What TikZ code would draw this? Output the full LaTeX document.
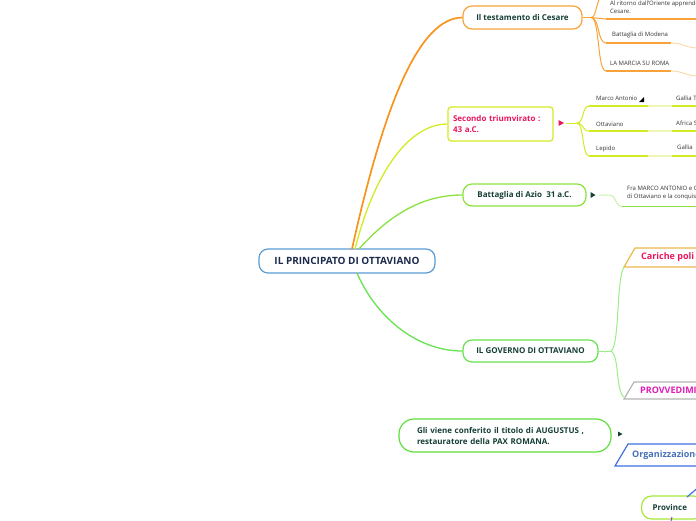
\documentclass[tikz,border=0pt]{standalone}
\usepackage{fontspec}
\setmainfont{Open Sans}
\definecolor{cOrange}{HTML}{F8A33A}
\definecolor{cOrangeDeep}{HTML}{F7941D}
\definecolor{cOrangeLight}{HTML}{FBD8A5}
\definecolor{cYellow}{HTML}{D4EA22}
\definecolor{cYellowLight}{HTML}{EEF7B5}
\definecolor{cGreen}{HTML}{8BE23E}
\definecolor{cGreenTwo}{HTML}{66E34F}
\definecolor{cGreenThree}{HTML}{5FDE3E}
\definecolor{cGreenLine}{HTML}{99EE88}
\definecolor{cGreenLight}{HTML}{C6F3A6}
\definecolor{cBlue}{HTML}{5B9BD5}
\definecolor{cNavy}{HTML}{1C2B4D}
\definecolor{cDark}{HTML}{163F36}
\definecolor{cPink}{HTML}{E8175D}
\definecolor{cMagenta}{HTML}{E01CB8}
\definecolor{cGold}{HTML}{ECB84C}
\definecolor{cGray}{HTML}{B4B4B4}
\definecolor{cBlueTwo}{HTML}{3F6FE0}
\definecolor{cBlueText}{HTML}{4872B8}
\definecolor{cProv}{HTML}{A6E83A}
\definecolor{cPurple}{HTML}{A040C0}
\begin{document}
\begin{tikzpicture}[x=1pt,y=-1pt,
  box/.style={draw, line width=1.2pt, fill=white, inner sep=0pt, align=center},
  bigfont/.style={font=\fontsize{10}{12}\selectfont\bfseries},
  midfont/.style={font=\fontsize{8}{11}\selectfont\bfseries},
  smallfont/.style={font=\fontsize{6}{8}\selectfont},
  leaf/.style={smallfont, text=black!80, anchor=west, inner sep=0pt, align=left},
  mainline/.style={line width=1.3pt},
  subline/.style={line width=1pt},
  uline/.style={line width=1.4pt},
  lightline/.style={line width=0.9pt}
]
\useasboundingbox (0,0) rectangle (696,520);
\clip (0,0) rectangle (696,520);

% ---------- root ----------
\node[box, draw=cBlue, rounded corners=9pt, minimum width=176pt, minimum height=24pt, bigfont, text=cNavy] (root) at (347,261) {IL PRINCIPATO DI OTTAVIANO};

% ---------- main branches ----------
\node[box, draw=cOrange, rounded corners=9pt, minimum width=119pt, minimum height=23pt, midfont, text=cDark] (test) at (522.5,17.5) {Il testamento di Cesare};
\node[box, draw=cYellow, rounded corners=3pt, minimum width=105pt, minimum height=34pt, midfont, text=cPink, align=left, text width=95pt] (trium) at (500.5,124) {Secondo triumvirato :\\43 a.C.};
\node[box, draw=cGreen, rounded corners=9pt, minimum width=123pt, minimum height=22pt, midfont, text=cDark] (azio) at (524.5,195) {Battaglia di Azio\ \ 31 a.C.};
\node[box, draw=cGreenTwo, rounded corners=9pt, minimum width=135pt, minimum height=22pt, midfont, text=cDark] (gov) at (530.5,351) {IL GOVERNO DI OTTAVIANO};
\node[box, draw=cGreenThree, rounded corners=15pt, minimum width=212pt, minimum height=33pt, midfont, text=cDark, align=left, text width=176pt] (aug) at (505,435.5) {Gli viene conferito il titolo di AUGUSTUS ,\\restauratore della PAX ROMANA.};
\node[box, draw=cProv, rounded corners=10pt, minimum width=62pt, minimum height=23pt, midfont, text=cDark, anchor=west, text width=54pt, align=left] (prov) at (641,507.5) {\hspace*{7pt}Province};

% root connectors
\coordinate (r1) at (352,249);
\coordinate (r2) at (355,249);
\coordinate (r3) at (359,249);
\coordinate (r4) at (357,273);
\draw[mainline, cOrangeDeep, line width=1.7pt] (r1) .. controls (385,100) and (420,18) .. (test.west);
\draw[mainline, cYellow] (r2) .. controls (375,170) and (410,124) .. (trium.west);
\draw[mainline, cGreen] (r3) .. controls (392,212) and (425,195) .. (azio.west);
\draw[mainline, cGreenTwo] (r4) .. controls (375,315) and (415,351) .. (gov.west);

% ---------- testamento children ----------
\coordinate (tj) at (591,17.5);
\coordinate (tup) at (600,-2);
\draw[subline, cOrange] (test.east) -- (tj);
\draw[subline, cOrange] (tj) .. controls (596,17.5) and (596,4) .. (tup);
\node[leaf] (t1) at (610,7) {Al ritorno dall'Oriente apprende\\Cesare.};
\node[leaf] (t2) at (612,35) {Battaglia di Modena};
\node[leaf] (t3) at (610,63) {LA MARCIA SU ROMA};
\coordinate (t1a) at (606,19); \coordinate (t1b) at (700,19);
\coordinate (t2a) at (606,43); \coordinate (t2b) at (671,43); \coordinate (t2c) at (700,48);
\coordinate (t3a) at (606,71); \coordinate (t3b) at (671,71); \coordinate (t3c) at (700,76);
\draw[subline, cOrange] (tj) .. controls (598,17.5) and (598,19) .. (t1a);
\draw[uline, cOrange] (t1a) -- (t1b);
\draw[subline, cOrange] (tj) .. controls (600,17.5) and (597,43) .. (t2a);
\draw[uline, cOrange] (t2a) -- (t2b);
\draw[lightline, cOrangeLight] (t2b) .. controls (684,43) and (684,48) .. (t2c);
\draw[subline, cOrange] (tj) .. controls (600,17.5) and (597,71) .. (t3a);
\draw[uline, cOrange] (t3a) -- (t3b);
\draw[lightline, cOrangeLight] (t3b) .. controls (684,71) and (684,76) .. (t3c);

% ---------- triumvirato children ----------
\fill[cPink] (558.5,120) -- (564,123) -- (558.5,126) -- cycle;
\coordinate (mj0) at (566,123);
\coordinate (mj) at (577,123);
\draw[subline, cYellow] (mj0) -- (mj);
\node[leaf] (m1) at (596,98) {Marco Antonio};
\node[leaf] (m2) at (596,124) {Ottaviano};
\node[leaf] (m3) at (596,148.5) {Lepido};
\node[leaf] (g1) at (676,98) {Gallia T};
\node[leaf] (g2) at (676,123) {Africa S};
\node[leaf] (g3) at (677,147.5) {Gallia};
\fill[black] (639,102) -- (644,102) -- (644,97) -- cycle;
\foreach \y/\n in {106/1,131/2,156/3}{
  \coordinate (ma\n) at (589,\y);
  \coordinate (mb\n) at (648,\y);
  \coordinate (mc\n) at (672,\y);
  \coordinate (md\n) at (700,\y);
  \draw[subline, cYellow] (mj) .. controls (584,123) and (582,\y) .. (ma\n);
  \draw[uline, cYellow] (ma\n) -- (mb\n);
  \draw[lightline, cYellowLight, line width=1.4pt] (mb\n) -- (mc\n);
  \draw[uline, cYellow] (mc\n) -- (md\n);
}

% ---------- azio child ----------
\fill[cDark] (590.5,192) -- (595.5,195) -- (590.5,198) -- cycle;
\coordinate (aj0) at (599,195);
\coordinate (aj) at (610,195);
\coordinate (aa) at (622,206.5);
\coordinate (ab) at (700,206.5);
\draw[subline, cGreenLight] (aj0) -- (aj) .. controls (616,195) and (615,206.5) .. (aa);
\draw[uline, cGreen] (aa) -- (ab);
\node[leaf] (a1) at (627,193.5) {Fra MARCO ANTONIO e C\\di Ottaviano e la conquist};

% ---------- governo children ----------
\coordinate (gj) at (611,351);
\draw[subline, cGreenLine] (gov.east) -- (gj);
\draw[line width=1.2pt, cGold, fill=white] (624,267) -- (635,248) -- (700,248) -- (700,267) -- cycle;
\node[anchor=west, inner sep=0pt, font=\fontsize{9}{11}\selectfont\bfseries, text=cPink] (car) at (641,257.5) {Cariche poli};
\coordinate (carc) at (624.5,266.5);
\draw[subline, cGreenLine] (gj) .. controls (620,345) and (616,276) .. (carc);
\draw[line width=1.2pt, cGray, fill=white] (624,399) -- (634,382) -- (700,382) -- (700,399) -- cycle;
\node[anchor=west, inner sep=0pt, font=\fontsize{9}{11}\selectfont\bfseries, text=cMagenta] (prv) at (640,390.5) {PROVVEDIMI};
\coordinate (prvc) at (625,398);
\draw[subline, cGreenLine] (gj) .. controls (620,357) and (615,392) .. (prvc);

% ---------- augustus ----------
\fill[cDark] (618,431.5) -- (622.5,434) -- (618,436.5) -- cycle;
\draw[line width=1.2pt, cBlueTwo, fill=white] (615,466) -- (628,444) -- (700,444) -- (700,466) -- cycle;
\node[anchor=west, inner sep=0pt, font=\fontsize{9}{11}\selectfont\bfseries, text=cBlueText] (org) at (632,455.5) {Organizzazione};
\coordinate (bl1) at (687,497);
\coordinate (bl2) at (700,486);
\draw[line width=1.2pt, cBlueTwo] (bl1) -- (bl2);
\coordinate (pu1) at (672,517);
\coordinate (pu2) at (671,521);
\draw[line width=1pt, cPurple] (pu1) -- (pu2);
\end{tikzpicture}
\end{document}
